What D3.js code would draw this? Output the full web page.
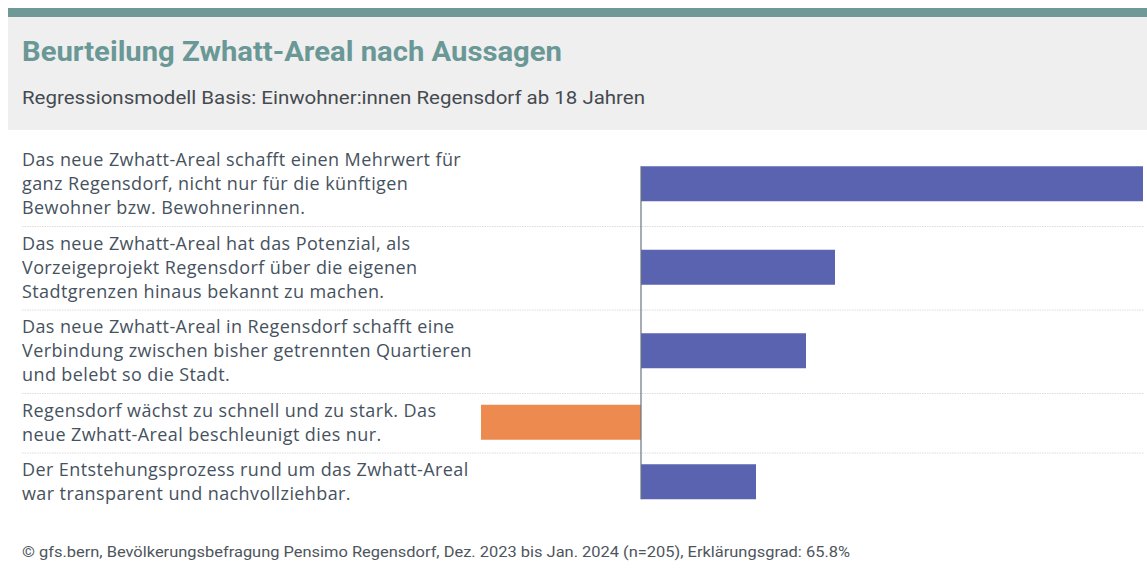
<!DOCTYPE html>
<html>
<head>
<meta charset="utf-8">
<script src="https://cdn.jsdelivr.net/npm/d3@7"></script>
<style>
  html, body { margin: 0; padding: 0; background: #fff; }
  svg { display: block; }
</style>
</head>
<body>
<svg id="chart" width="1147" height="574"></svg>
<script>
// Statements (line breaks as they are wrapped in the label column)
const statements = [
  "Das neue Zwhatt-Areal schafft einen Mehrwert für\nganz Regensdorf, nicht nur für die künftigen\nBewohner bzw. Bewohnerinnen.",
  "Das neue Zwhatt-Areal hat das Potenzial, als\nVorzeigeprojekt Regensdorf über die eigenen\nStadtgrenzen hinaus bekannt zu machen.",
  "Das neue Zwhatt-Areal in Regensdorf schafft eine\nVerbindung zwischen bisher getrennten Quartieren\nund belebt so die Stadt.",
  "Regensdorf wächst zu schnell und zu stark. Das\nneue Zwhatt-Areal beschleunigt dies nur.",
  "Der Entstehungsprozess rund um das Zwhatt-Areal\nwar transparent und nachvollziehbar."
];
// Regression coefficients per statement
const coefficients = [0.502, 0.194, 0.165, -0.160, 0.115];

const title = "Beurteilung Zwhatt-Areal nach Aussagen";
const subtitle = "Regressionsmodell Basis: Einwohner:innen Regensdorf ab 18 Jahren";
const source = "© gfs.bern, Bevölkerungsbefragung Pensimo Regensdorf, Dez. 2023 bis Jan. 2024 (n=205), Erklärungsgrad: 65.8%";

const colors = { pos: "#5a63b0", neg: "#ec8a4f" };

const svg = d3.select("#chart");
const W = 1147;

// Header block
svg.append("rect").attr("x", 8).attr("y", 17).attr("width", W - 8).attr("height", 113).attr("fill", "#efefef");
svg.append("rect").attr("x", 8).attr("y", 8).attr("width", W - 8).attr("height", 9).attr("fill", "#6e9997");

function fitText(sel, width) {
  const len = sel.node().getComputedTextLength();
  if (len > 0) sel.attr("textLength", width).attr("lengthAdjust", "spacingAndGlyphs");
  return sel;
}

fitText(svg.append("text")
  .attr("x", 22).attr("y", 61)
  .attr("font-family", "Roboto, 'Noto Sans', sans-serif")
  .attr("font-weight", 700)
  .attr("font-size", 27)
  .attr("fill", "#6a9896")
  .text(title), 540);

fitText(svg.append("text")
  .attr("x", 22).attr("y", 104)
  .attr("font-family", "Roboto, 'Noto Sans', sans-serif")
  .attr("font-size", 18.5)
  .attr("fill", "#444a50")
  .text(subtitle), 623);

// Rows: height depends on the number of label lines
const lineH = 24;
const rowPad = 11.5;
const top0 = 143;
const rows = [];
let yAcc = top0;
statements.forEach((s, i) => {
  const lines = s.split("\n");
  const h = lines.length * lineH + rowPad;
  rows.push({ label: lines, value: coefficients[i], y0: yAcc, h });
  yAcc += h;
});

const x = d3.scaleLinear()
  .domain([d3.min(coefficients), d3.max(coefficients)])
  .range([481, 1143]);

const barH = 35;

// Separators between rows
svg.append("g").selectAll("line")
  .data(rows.slice(1))
  .join("line")
  .attr("x1", 22).attr("x2", W - 3)
  .attr("y1", d => d.y0).attr("y2", d => d.y0)
  .attr("stroke", "#dcdcdc")
  .attr("stroke-width", 1)
  .attr("stroke-dasharray", "1.5,1");

// Labels
const lab = svg.append("g")
  .attr("font-family", "'Open Sans', 'Noto Sans', sans-serif")
  .attr("font-size", 18)
  .attr("letter-spacing", 0.4)
  .attr("fill", "#46525e");
rows.forEach(r => {
  const n = r.label.length;
  const firstCenter = r.y0 + r.h / 2 - (n - 1) * lineH / 2 - 1;
  r.label.forEach((ln, j) => {
    lab.append("text")
      .attr("x", 22)
      .attr("y", firstCenter + j * lineH)
      .attr("dy", "0.35em")
      .text(ln);
  });
});

// Bars
svg.append("g").selectAll("rect")
  .data(rows)
  .join("rect")
  .attr("x", d => x(Math.min(0, d.value)))
  .attr("width", d => Math.abs(x(d.value) - x(0)))
  .attr("y", d => d.y0 + d.h / 2 - 1 - barH / 2)
  .attr("height", barH)
  .attr("fill", d => d.value >= 0 ? colors.pos : colors.neg);

// Zero line
const firstBarTop = rows[0].y0 + rows[0].h / 2 - 1 - barH / 2;
const last = rows[rows.length - 1];
const lastBarBottom = last.y0 + last.h / 2 - 1 + barH / 2;
svg.append("line")
  .attr("x1", x(0)).attr("x2", x(0))
  .attr("y1", firstBarTop).attr("y2", lastBarBottom)
  .attr("stroke", "#6b7480")
  .attr("stroke-width", 1.2);

// Source note
fitText(svg.append("text")
  .attr("x", 22).attr("y", 557)
  .attr("font-family", "Roboto, 'Noto Sans', sans-serif")
  .attr("font-size", 15)
  .attr("fill", "#4e555c")
  .text(source), 828);
</script>
</body>
</html>
